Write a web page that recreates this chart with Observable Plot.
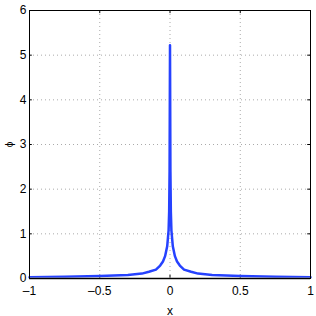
<!DOCTYPE html>
<html><head><meta charset="utf-8">
<script src="https://cdn.jsdelivr.net/npm/d3@7"></script>
<script src="https://cdn.jsdelivr.net/npm/@observablehq/plot@0.6"></script>
<style>body{margin:0;background:#fff}</style>
</head><body><div id="chart"></div>
<script>
const xVals   = [-1, -0.75, -0.5, -0.3, -0.2, -0.15, -0.1, -0.07, -0.05, -0.035, -0.02, -0.01, -0.006, -0.003, 0, 0.003, 0.006, 0.01, 0.02, 0.035, 0.05, 0.07, 0.1, 0.15, 0.2, 0.3, 0.5, 0.75, 1];
const phiVals = [0.03, 0.04, 0.055, 0.08, 0.11, 0.15, 0.2, 0.29, 0.38, 0.5, 0.72, 1.08, 1.5, 2.4, 5.22, 2.4, 1.5, 1.08, 0.72, 0.5, 0.38, 0.29, 0.2, 0.15, 0.11, 0.08, 0.055, 0.04, 0.03];
const xTicks = [-1, -0.5, 0, 0.5, 1];
const yTicks = [0, 1, 2, 3, 4, 5, 6];
const data = xVals.map((x, i) => ({x, phi: phiVals[i]}));
const fmt = d => String(d).replace("-", "\u2013");
const chart = Plot.plot({
  width: 316, height: 316,
  marginLeft: 29, marginRight: 6, marginTop: 10, marginBottom: 38,
  style: {fontFamily: "Liberation Sans, Arial, sans-serif", fontSize: "12px", color: "#000"},
  x: {domain: [-1, 1]},
  y: {domain: [0, 6]},
  marks: [
    Plot.gridX(xTicks, {stroke: "#aaa", strokeOpacity: 1, strokeDasharray: "1,3"}),
    Plot.gridY(yTicks, {stroke: "#aaa", strokeOpacity: 1, strokeDasharray: "1,3"}),
    Plot.ruleX(xTicks, {y1: 0, y2: 0.07, stroke: "#000"}),
    Plot.ruleX(xTicks, {y1: 6, y2: 5.93, stroke: "#000"}),
    Plot.ruleY(yTicks, {x1: -1, x2: -0.98, stroke: "#000"}),
    Plot.ruleY(yTicks, {x1: 1, x2: 0.98, stroke: "#000"}),
    Plot.axisX(xTicks, {tickSize: 0, tickPadding: 8, tickFormat: fmt, label: "x", labelAnchor: "center", labelArrow: "none", labelOffset: 36, fontSize: 12}),
    Plot.axisY(yTicks, {tickSize: 0, tickPadding: 3, tickFormat: fmt, label: null, fontSize: 12}),
    Plot.axisY({tickSize: 0, ticks: [], label: "\u03d5", labelAnchor: "center", labelArrow: "none", labelOffset: 24, fontSize: 10}),
    Plot.line(data, {x: "x", y: "phi", stroke: "#2642ff", strokeWidth: 2.5}),
    Plot.ruleY([0], {stroke: "#888", strokeWidth: 2}),
    Plot.frame({stroke: "#000", strokeWidth: 1})
  ]
});
document.getElementById("chart").appendChild(chart);
</script></body></html>
